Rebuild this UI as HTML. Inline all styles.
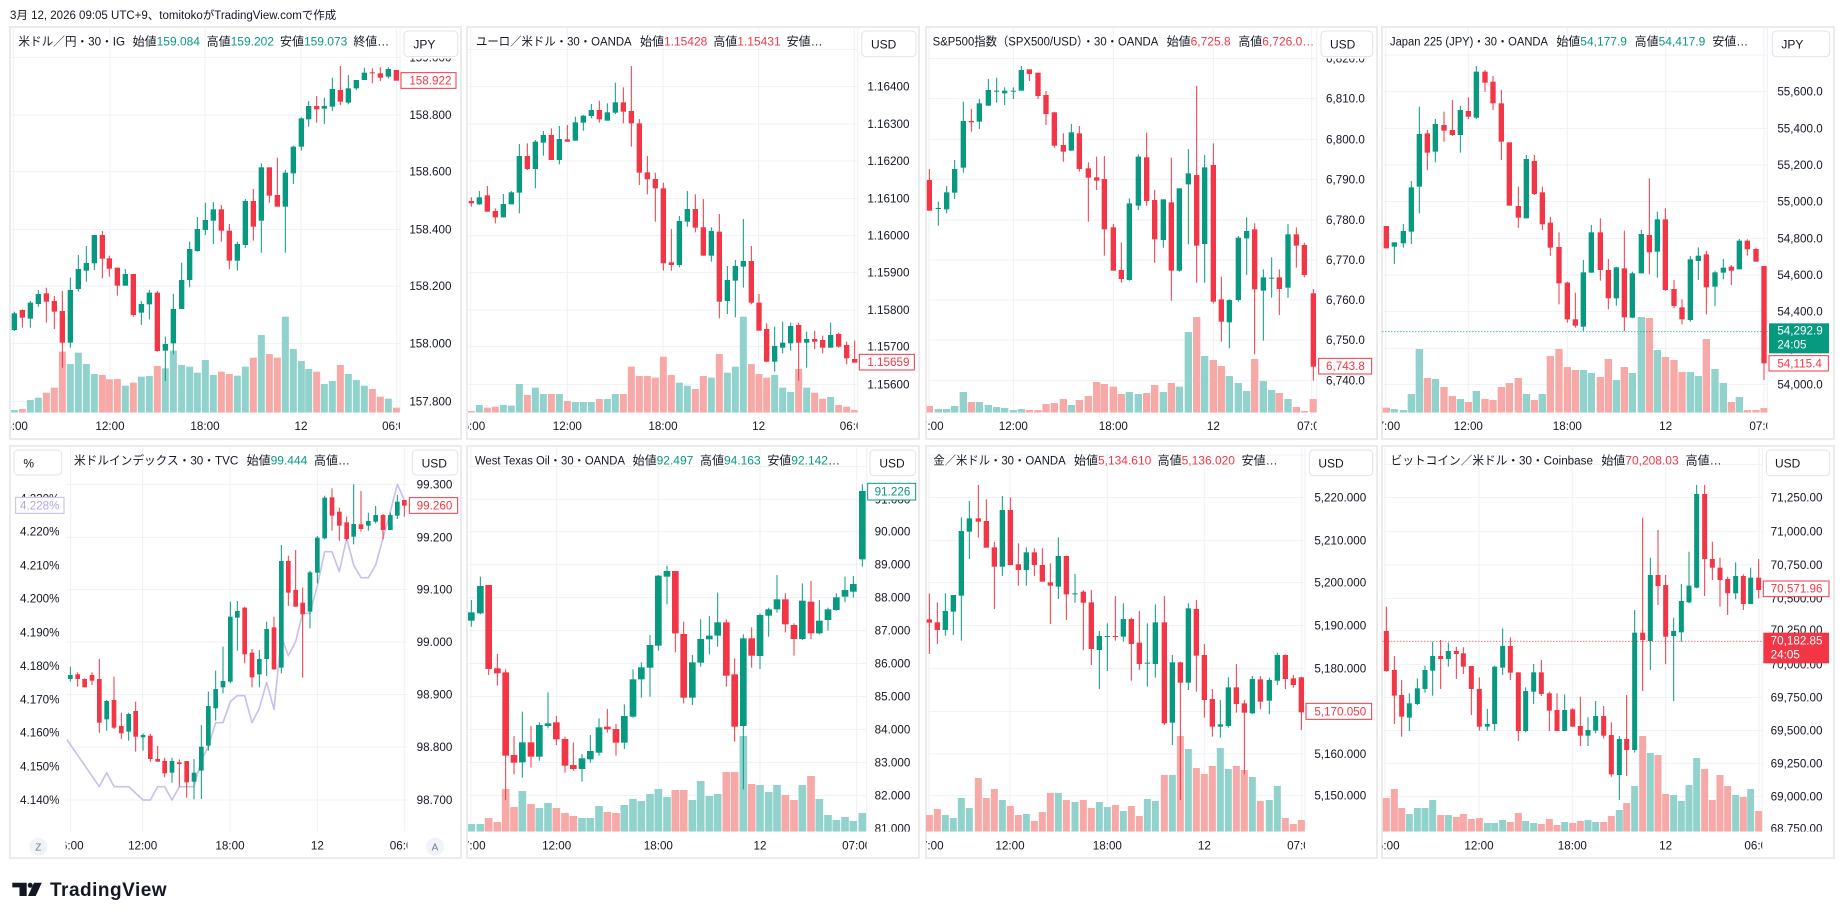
<!DOCTYPE html>
<html><head><meta charset="utf-8">
<style>
html,body{margin:0;padding:0;background:#fff;width:1844px;height:920px;overflow:hidden;}
svg{display:block;font-family:"Liberation Sans","Noto Sans CJK JP",sans-serif;}
.t{font-size:36px;fill:#131722;}
.ax{font-size:35px;fill:#131722;}
.tm{font-size:35px;fill:#131722;text-anchor:middle;}
.g{fill:#089981}.r{fill:#f23645}
.grid{stroke:#eff1f4;stroke-width:3;fill:none}
.cb{fill:#fff;stroke:#e0e3eb;stroke-width:3}
</style></head><body>
<svg id="S" width="1844" height="920" viewBox="0 0 1844 920" xmlns="http://www.w3.org/2000/svg">
<defs>
<clipPath id="p1"><rect x="33" y="81" width="1167" height="1157"/></clipPath>
<clipPath id="p2"><rect x="24" y="81" width="1169" height="1157"/></clipPath>
<clipPath id="p3"><rect x="20" y="81" width="1170" height="1157"/></clipPath>
<clipPath id="p4"><rect x="25" y="81" width="1155" height="1157"/></clipPath>
<clipPath id="p5"><rect x="200" y="18" width="1022" height="1157"/></clipPath>
<clipPath id="p6"><rect x="24" y="18" width="1196" height="1157"/></clipPath>
<clipPath id="p7"><rect x="18" y="18" width="1137" height="1157"/></clipPath>
<clipPath id="p8"><rect x="25" y="18" width="1140" height="1157"/></clipPath>
<clipPath id="a1"><rect x="1200" y="176" width="200" height="1062"/></clipPath>
<clipPath id="a2"><rect x="1193" y="176" width="200" height="1062"/></clipPath>
<clipPath id="a3"><rect x="1190" y="176" width="200" height="1062"/></clipPath>
<clipPath id="a4"><rect x="1180" y="176" width="200" height="1062"/></clipPath>
<clipPath id="a5"><rect x="1222" y="108" width="200" height="1067"/></clipPath>
<clipPath id="a6"><rect x="1220" y="108" width="200" height="1067"/></clipPath>
<clipPath id="a7"><rect x="1155" y="108" width="250" height="1067"/></clipPath>
<clipPath id="a8"><rect x="1165" y="108" width="250" height="1067"/></clipPath>
<clipPath id="t1"><rect x="33" y="0" width="1167" height="1400"/></clipPath>
<clipPath id="t2"><rect x="24" y="0" width="1169" height="1400"/></clipPath>
<clipPath id="t3"><rect x="20" y="0" width="1170" height="1400"/></clipPath>
<clipPath id="t4"><rect x="25" y="0" width="1155" height="1400"/></clipPath>
<clipPath id="t5"><rect x="197" y="0" width="1025" height="1400"/></clipPath>
<clipPath id="t6"><rect x="24" y="0" width="1196" height="1400"/></clipPath>
<clipPath id="t7"><rect x="18" y="0" width="1137" height="1400"/></clipPath>
<clipPath id="t8"><rect x="25" y="0" width="1140" height="1400"/></clipPath>
</defs>
<rect width="1844" height="920" fill="#fff"/>
<text x="10" y="19" font-size="11.5" fill="#131722">3月 12, 2026 09:05 UTC+9、tomitokoがTradingView.comで作成</text>

<g fill="none" stroke="#ebebeb" stroke-width="2">
<rect x="10" y="27" width="451" height="412"/>
<rect x="467" y="27" width="452" height="412"/>
<rect x="926" y="27" width="451" height="412"/>
<rect x="1382" y="27" width="452" height="412"/>
<rect x="10" y="446" width="451" height="412"/>
<rect x="467" y="446" width="452" height="412"/>
<rect x="926" y="446" width="451" height="412"/>
<rect x="1382" y="446" width="452" height="412"/>
</g>

<!-- TradingView logo -->
<g fill="#131722">
<path d="M12.3 882.7H26.7V896H19.5V887.4H12.3Z"/>
<circle cx="30.2" cy="885.3" r="2.5"/>
<path d="M34 882.7H41.8L35.7 896H28Z"/>
<text x="50" y="896" font-size="19" font-weight="bold" letter-spacing="0.5">TradingView</text>
</g>

<!-- PANEL 1 -->
<g transform="scale(0.333333)">
<path class="grid" d="M33 172H1200M33 345H1200M33 515H1200M33 688H1200M33 858H1200M33 1030H1200M33 1205H1200M40 81V1238M330 81V1238M615 81V1238M903 81V1238M1190 81V1238M1200 81V1238"/>
<g id="c1" clip-path="url(#p1)"></g>
<g clip-path="url(#a1)" class="ax">
<text x="1228" y="184">159.000</text><text x="1228" y="357">158.800</text><text x="1228" y="527">158.600</text><text x="1228" y="700">158.400</text><text x="1228" y="870">158.200</text><text x="1228" y="1042">158.000</text><text x="1228" y="1217">157.800</text>
</g>
<rect x="1203" y="218" width="165" height="47" fill="#fff" stroke="#f23645" stroke-width="3"/>
<text x="1228" y="254" class="ax r">158.922</text>
<rect class="cb" x="1212" y="93" width="161" height="77" rx="12"/>
<text x="1240" y="145" class="t">JPY</text>
<text x="55" y="137" class="t" textLength="320" lengthAdjust="spacingAndGlyphs">米ドル／円・30・IG</text>
<text x="398" y="137" class="t">始値<tspan class="g">159.084</tspan></text>
<text x="620" y="137" class="t">高値<tspan class="g">159.202</tspan></text>
<text x="840" y="137" class="t">安値<tspan class="g">159.073</tspan></text>
<text x="1060" y="137" class="t">終値…</text>
<g clip-path="url(#t1)"><text class="tm" x="40" y="1290">06:00</text><text class="tm" x="330" y="1290">12:00</text><text class="tm" x="615" y="1290">18:00</text><text class="tm" x="903" y="1290">12</text><text class="tm" x="1190" y="1290">06:00</text></g>
</g>

<!-- PANEL 2 -->
<g transform="translate(460 0) scale(0.333333)">
<path class="grid" d="M24 148H1193M24 260H1193M24 372H1193M24 483H1193M24 596H1193M24 707H1193M24 818H1193M24 930H1193M24 1040H1193M24 1153H1193M32 81V1238M322 81V1238M609 81V1238M896 81V1238M1183 81V1238M1193 81V1238"/>
<g id="c2" clip-path="url(#p2)"></g>
<g clip-path="url(#a2)" class="ax">
<text x="1222" y="272">1.16400</text><text x="1222" y="384">1.16300</text><text x="1222" y="495">1.16200</text><text x="1222" y="608">1.16100</text><text x="1222" y="719">1.16000</text><text x="1222" y="830">1.15900</text><text x="1222" y="942">1.15800</text><text x="1222" y="1052">1.15700</text><text x="1222" y="1165">1.15600</text>
</g>
<rect x="1198" y="1063" width="165" height="47" fill="#fff" stroke="#f23645" stroke-width="3"/>
<text x="1222" y="1098" class="ax r">1.15659</text>
<rect class="cb" x="1205" y="93" width="163" height="77" rx="12"/>
<text x="1233" y="145" class="t">USD</text>
<text x="48" y="137" class="t" textLength="467" lengthAdjust="spacingAndGlyphs">ユーロ／米ドル・30・OANDA</text>
<text x="540" y="137" class="t">始値<tspan class="r">1.15428</tspan></text>
<text x="760" y="137" class="t">高値<tspan class="r">1.15431</tspan></text>
<text x="980" y="137" class="t">安値…</text>
<g clip-path="url(#t2)"><text class="tm" x="32" y="1290">06:00</text><text class="tm" x="322" y="1290">12:00</text><text class="tm" x="609" y="1290">18:00</text><text class="tm" x="896" y="1290">12</text><text class="tm" x="1183" y="1290">06:00</text></g>
</g>

<!-- PANEL 3 -->
<g transform="translate(920 0) scale(0.333333)">
<path class="grid" d="M20 176H1190M20 296H1190M20 418H1190M20 538H1190M20 660H1190M20 780H1190M20 900H1190M20 1020H1190M20 1142H1190M27 81V1238M280 81V1238M580 81V1238M880 81V1238M1175 81V1238M1190 81V1238"/>
<g id="c3" clip-path="url(#p3)"></g>
<g clip-path="url(#a3)" class="ax">
<text x="1218" y="188">6,820.0</text><text x="1218" y="308">6,810.0</text><text x="1218" y="430">6,800.0</text><text x="1218" y="550">6,790.0</text><text x="1218" y="672">6,780.0</text><text x="1218" y="792">6,770.0</text><text x="1218" y="912">6,760.0</text><text x="1218" y="1032">6,750.0</text><text x="1218" y="1154">6,740.0</text>
</g>
<rect x="1196" y="1075" width="159" height="47" fill="#fff" stroke="#f23645" stroke-width="3"/>
<text x="1218" y="1110" class="ax r">6,743.8</text>
<rect class="cb" x="1203" y="93" width="155" height="77" rx="12"/>
<text x="1230" y="145" class="t">USD</text>
<text x="38" y="137" class="t" textLength="677" lengthAdjust="spacingAndGlyphs">S&amp;P500指数（SPX500/USD）・30・OANDA</text>
<text x="740" y="137" class="t">始値<tspan class="r">6,725.8</tspan></text>
<text x="955" y="137" class="t">高値<tspan class="r">6,726.0…</tspan></text>
<g clip-path="url(#t3)"><text class="tm" x="27" y="1290">07:00</text><text class="tm" x="280" y="1290">12:00</text><text class="tm" x="580" y="1290">18:00</text><text class="tm" x="880" y="1290">12</text><text class="tm" x="1175" y="1290">07:00</text></g>
</g>

<!-- PANEL 4 -->
<g transform="translate(1374 0) scale(0.333333)">
<path class="grid" d="M25 165H1180M25 275H1180M25 385H1180M25 495H1180M25 605H1180M25 715H1180M25 825H1180M25 935H1180M25 1045H1180M25 1153H1180M35 81V1238M283 81V1238M580 81V1238M875 81V1238M1170 81V1238M1180 81V1238"/>
<g id="c4" clip-path="url(#p4)"></g>
<path d="M25 995H1180" stroke="#089981" stroke-width="3" stroke-dasharray="3 6"/>
<g clip-path="url(#a4)" class="ax">
<text x="1210" y="287">55,600.0</text><text x="1210" y="397">55,400.0</text><text x="1210" y="507">55,200.0</text><text x="1210" y="617">55,000.0</text><text x="1210" y="727">54,800.0</text><text x="1210" y="837">54,600.0</text><text x="1210" y="947">54,400.0</text><text x="1210" y="1057">54,200.0</text><text x="1210" y="1165">54,000.0</text>
</g>
<rect x="1185" y="970" width="180" height="90" fill="#089981"/>
<text x="1210" y="1004" class="ax" style="fill:#fff">54,292.9</text>
<text x="1210" y="1045" class="ax" style="fill:#fff">24:05</text>
<rect x="1185" y="1067" width="178" height="46" fill="#fff" stroke="#f23645" stroke-width="3"/>
<text x="1210" y="1102" class="ax r">54,115.4</text>
<rect class="cb" x="1195" y="93" width="172" height="77" rx="12"/>
<text x="1222" y="145" class="t">JPY</text>
<text x="48" y="137" class="t" textLength="474" lengthAdjust="spacingAndGlyphs">Japan 225 (JPY)・30・OANDA</text>
<text x="547" y="137" class="t">始値<tspan class="g">54,177.9</tspan></text>
<text x="782" y="137" class="t">高値<tspan class="g">54,417.9</tspan></text>
<text x="1015" y="137" class="t">安値…</text>
<g clip-path="url(#t4)"><text class="tm" x="35" y="1290">07:00</text><text class="tm" x="283" y="1290">12:00</text><text class="tm" x="580" y="1290">18:00</text><text class="tm" x="875" y="1290">12</text><text class="tm" x="1170" y="1290">07:00</text></g>
</g>

<!-- PANEL 5 -->
<g transform="translate(0 440) scale(0.333333)">
<path class="grid" d="M200 133H1222M200 292H1222M200 449H1222M200 606H1222M200 764H1222M200 921H1222M200 1080H1222M212 18V1175M428 18V1175M690 18V1175M952 18V1175M1213 18V1175"/>
<g clip-path="url(#p5)">
<polyline fill="none" stroke="#cbc0ea" stroke-width="5" stroke-linejoin="round" points="200,898 298,1040 320,998 342,1040 386,1040 429,1080 451,1080 473,1040 494,1040 516,1080 538,1040 582,1040 604,960 625,920 647,848 669,848 691,785 712,767 734,767 756,848 778,805 800,727 822,808 844,590 865,647 887,605 908,520 930,520 952,437 974,335 996,335 1018,395 1040,295 1061,375 1083,413 1105,413 1127,375 1149,295 1171,215 1192,133 1213,180"/>
<g id="c5"></g>
</g>
<g clip-path="url(#a5)" class="ax">
<text x="1250" y="145">99.300</text><text x="1250" y="304">99.200</text><text x="1250" y="461">99.100</text><text x="1250" y="618">99.000</text><text x="1250" y="776">98.900</text><text x="1250" y="933">98.800</text><text x="1250" y="1092">98.700</text>
</g>
<g class="ax">
<text x="60" y="187">4.230%</text><text x="60" y="287">4.220%</text><text x="60" y="388">4.210%</text><text x="60" y="488">4.200%</text><text x="60" y="590">4.190%</text><text x="60" y="690">4.180%</text><text x="60" y="790">4.170%</text><text x="60" y="890">4.160%</text><text x="60" y="992">4.150%</text><text x="60" y="1092">4.140%</text>
</g>
<rect x="47" y="172" width="145" height="48" fill="#fff" stroke="#c5b8ea" stroke-width="3"/>
<text x="60" y="208" class="ax" style="fill:#b6a6e3">4.228%</text>
<rect x="1228" y="173" width="145" height="47" fill="#fff" stroke="#f23645" stroke-width="3"/>
<text x="1250" y="208" class="ax r">99.260</text>
<rect class="cb" x="1237" y="30" width="136" height="75" rx="12"/>
<text x="1265" y="82" class="t">USD</text>
<rect class="cb" x="42" y="30" width="143" height="75" rx="12"/>
<text x="70" y="82" class="t">%</text>
<text x="222" y="74" class="t" textLength="493" lengthAdjust="spacingAndGlyphs">米ドルインデックス・30・TVC</text>
<text x="740" y="74" class="t">始値<tspan class="g">99.444</tspan></text>
<text x="942" y="74" class="t">高値…</text>
<g clip-path="url(#t5)"><text class="tm" x="207" y="1229">06:00</text><text class="tm" x="428" y="1229">12:00</text><text class="tm" x="690" y="1229">18:00</text><text class="tm" x="952" y="1229">12</text><text class="tm" x="1213" y="1229">06:00</text></g>
<circle cx="115" cy="1220" r="27" fill="#f0f3fa"/>
<text x="115" y="1231" font-size="30" text-anchor="middle" fill="#787b86">Z</text>
<circle cx="1305" cy="1220" r="27" fill="#f0f3fa"/>
<text x="1305" y="1231" font-size="30" text-anchor="middle" fill="#787b86">A</text>
</g>

<!-- PANEL 6 -->
<g transform="translate(460 440) scale(0.333333)">
<path class="grid" d="M24 80H1220M24 178H1220M24 275H1220M24 374H1220M24 473H1220M24 572H1220M24 671H1220M24 770H1220M24 868H1220M24 967H1220M24 1066H1220M24 1165H1220M33 18V1175M290 18V1175M595 18V1175M900 18V1175M1190 18V1175M1220 18V1175"/>
<g id="c6" clip-path="url(#p6)"></g>
<g clip-path="url(#a6)" class="ax">
<text x="1244" y="190">91.000</text><text x="1244" y="287">90.000</text><text x="1244" y="386">89.000</text><text x="1244" y="485">88.000</text><text x="1244" y="584">87.000</text><text x="1244" y="683">86.000</text><text x="1244" y="782">85.000</text><text x="1244" y="880">84.000</text><text x="1244" y="979">83.000</text><text x="1244" y="1078">82.000</text><text x="1244" y="1177">81.000</text>
</g>
<rect x="1223" y="130" width="144" height="50" fill="#fff" stroke="#089981" stroke-width="3"/>
<text x="1244" y="167" class="ax g">91.226</text>
<rect class="cb" x="1230" y="30" width="137" height="77" rx="12"/>
<text x="1258" y="82" class="t">USD</text>
<text x="45" y="74" class="t" textLength="450" lengthAdjust="spacingAndGlyphs">West Texas Oil・30・OANDA</text>
<text x="518" y="74" class="t">始値<tspan class="g">92.497</tspan></text>
<text x="720" y="74" class="t">高値<tspan class="g">94.163</tspan></text>
<text x="922" y="74" class="t">安値<tspan class="g">92.142</tspan>…</text>
<g clip-path="url(#t6)"><text class="tm" x="33" y="1229">07:00</text><text class="tm" x="290" y="1229">12:00</text><text class="tm" x="595" y="1229">18:00</text><text class="tm" x="900" y="1229">12</text><text class="tm" x="1190" y="1229">07:00</text></g>
</g>

<!-- PANEL 7 -->
<g transform="translate(920 440) scale(0.333333)">
<path class="grid" d="M18 45H1155M18 173H1155M18 302H1155M18 428H1155M18 557H1155M18 686H1155M18 815H1155M18 942H1155M18 1067H1155M27 18V1175M270 18V1175M562 18V1175M853 18V1175M1145 18V1175M1155 18V1175"/>
<g id="c7" clip-path="url(#p7)"></g>
<g clip-path="url(#a7)" class="ax">
<text x="1183" y="185">5,220.000</text><text x="1183" y="314">5,210.000</text><text x="1183" y="440">5,200.000</text><text x="1183" y="569">5,190.000</text><text x="1183" y="698">5,180.000</text><text x="1183" y="827">5,170.000</text><text x="1183" y="954">5,160.000</text><text x="1183" y="1079">5,150.000</text>
</g>
<rect x="1158" y="790" width="197" height="48" fill="#fff" stroke="#f23645" stroke-width="3"/>
<text x="1183" y="826" class="ax r">5,170.050</text>
<rect class="cb" x="1168" y="30" width="190" height="77" rx="12"/>
<text x="1195" y="82" class="t">USD</text>
<text x="40" y="74" class="t" textLength="397" lengthAdjust="spacingAndGlyphs">金／米ドル・30・OANDA</text>
<text x="462" y="74" class="t">始値<tspan class="r">5,134.610</tspan></text>
<text x="713" y="74" class="t">高値<tspan class="r">5,136.020</tspan></text>
<text x="965" y="74" class="t">安値…</text>
<g clip-path="url(#t7)"><text class="tm" x="27" y="1229">07:00</text><text class="tm" x="270" y="1229">12:00</text><text class="tm" x="562" y="1229">18:00</text><text class="tm" x="853" y="1229">12</text><text class="tm" x="1145" y="1229">07:00</text></g>
</g>

<!-- PANEL 8 -->
<g transform="translate(1374 440) scale(0.333333)">
<path class="grid" d="M25 73H1165M25 173H1165M25 275H1165M25 375H1165M25 475H1165M25 572H1165M25 673H1165M25 773H1165M25 872H1165M25 970H1165M25 1070H1165M25 1168H1165M33 18V1175M315 18V1175M595 18V1175M875 18V1175M1155 18V1175M1165 18V1175"/>
<g id="c8" clip-path="url(#p8)"></g>
<path d="M25 604H1165" stroke="#f23645" stroke-width="3" stroke-dasharray="3 6"/>
<g clip-path="url(#a8)" class="ax">
<text x="1190" y="185">71,250.00</text><text x="1190" y="287">71,000.00</text><text x="1190" y="387">70,750.00</text><text x="1190" y="487">70,500.00</text><text x="1190" y="582">70,250.00</text><text x="1190" y="685">70,000.00</text><text x="1190" y="785">69,750.00</text><text x="1190" y="884">69,500.00</text><text x="1190" y="982">69,250.00</text><text x="1190" y="1082">69,000.00</text><text x="1190" y="1177">68,750.00</text>
</g>
<rect x="1168" y="423" width="197" height="47" fill="#fff" stroke="#f23645" stroke-width="3"/>
<text x="1190" y="458" class="ax r">70,571.96</text>
<rect x="1168" y="578" width="197" height="92" fill="#f23645"/>
<text x="1190" y="614" class="ax" style="fill:#fff">70,182.85</text>
<text x="1190" y="655" class="ax" style="fill:#fff">24:05</text>
<rect class="cb" x="1177" y="30" width="190" height="77" rx="12"/>
<text x="1203" y="82" class="t">USD</text>
<text x="50" y="74" class="t" textLength="607" lengthAdjust="spacingAndGlyphs">ビットコイン／米ドル・30・Coinbase</text>
<text x="682" y="74" class="t">始値<tspan class="r">70,208.03</tspan></text>
<text x="935" y="74" class="t">高値…</text>
<g clip-path="url(#t8)"><text class="tm" x="33" y="1229">06:00</text><text class="tm" x="315" y="1229">12:00</text><text class="tm" x="595" y="1229">18:00</text><text class="tm" x="875" y="1229">12</text><text class="tm" x="1155" y="1229">06:00</text></g>
</g>
</svg>
<script>
(function(){
var NS='http://www.w3.org/2000/svg';
function R(g,x,y,w,h,f){var e=document.createElementNS(NS,'rect');e.setAttribute('x',x);e.setAttribute('y',y);e.setAttribute('width',w);e.setAttribute('height',h);e.setAttribute('fill',f);g.appendChild(e);}
function draw(id,cs,vs,bw,vw,base){
var g=document.getElementById(id);
var C=cs.trim().split(/\s+/).map(function(t){var n=t.slice(1).split(',').map(Number);return {c:t[0],n:n};});
if(vs){vs.trim().split(/\s+/).forEach(function(t,i){if(!C[i])return;var top=+t.slice(1);R(g,C[i].n[0]-vw/2,top,vw,base-top,t[0]=='g'?'#92d2cc':'#f7a9a7');});}
C.forEach(function(o){var n=o.n,col=o.c=='g'?'#089981':'#f23645';
R(g,n[0]-1.5,n[3],3,Math.max(3,n[4]-n[3]),col);
R(g,n[0]-bw/2,n[1],bw,Math.max(3,n[2]-n[1]),col);});
}
draw('c1',"g43,940,990,935,993 r67,930,953,928,983 g91,908,956,903,983 g115,882,912,870,920 r139,880,905,863,968 r163,903,935,888,987 r187,933,1028,873,1103 g211,870,1028,833,1043 g235,807,867,765,875 g259,789,812,738,845 g283,705,790,705,810 r307,705,776,693,835 r328,775,806,767,830 r352,803,857,803,887 g376,822,857,807,857 r400,822,945,822,950 g424,912,938,903,975 g448,878,913,870,958 r472,878,1053,873,1055 g496,1032,1052,1010,1143 g520,927,1030,882,1063 g545,840,927,788,927 g569,747,840,725,862 g592,687,753,651,755 g616,660,690,608,705 g640,628,662,606,732 r664,628,692,615,725 r688,692,782,672,808 g712,732,782,725,812 g736,603,735,597,743 r760,603,680,567,722 g784,502,662,490,758 r808,502,587,502,608 r832,585,620,473,620 g856,518,620,510,758 g880,440,520,437,552 g904,355,440,352,452 g926,318,358,303,380 r950,318,328,288,368 g973,318,326,293,372 g997,267,320,233,333 r1021,270,305,198,315 g1045,265,308,225,313 g1069,240,265,240,270 g1093,218,240,203,240 r1117,217,220,205,250 r1141,220,233,202,243 g1165,207,230,202,236 r1189,210,242,210,242",
"g1230 r1227 g1200 g1193 r1178 r1163 r1055 g1092 g1058 g1092 g1122 r1125 r1138 r1137 g1157 r1148 g1130 g1128 r1098 g1105 g1052 g1095 g1100 g1118 g1080 g1125 r1115 r1122 g1127 g1100 r1073 g1005 r1062 r1073 g950 g1047 g1083 g1107 r1115 g1152 g1143 r1095 g1122 g1140 g1157 r1167 r1190 g1196 r1223",16,21,1238);
draw('c2',"r34,603,610,592,620 g58,592,613,573,615 r82,586,635,558,635 r106,633,652,625,670 g130,612,652,582,652 g154,577,613,573,613 g178,468,578,432,640 r202,468,507,430,510 g226,425,507,420,565 g250,405,428,393,467 r274,405,480,385,480 g298,417,480,378,493 r322,418,425,375,425 g346,367,422,350,422 g370,347,368,345,392 g394,330,348,312,355 r418,330,358,302,368 g442,337,362,310,362 g466,307,338,248,342 r490,307,335,262,370 r514,333,370,198,440 r538,370,518,357,555 r562,517,538,468,583 r586,537,565,518,665 r610,565,790,548,812 r634,787,795,687,812 g658,663,795,648,802 g682,627,665,573,680 r706,627,683,583,697 r730,682,767,597,767 g754,693,767,682,785 r778,695,905,642,955 g802,840,903,798,942 g826,798,842,780,952 g850,783,800,657,863 r874,783,908,738,913 r897,908,992,882,992 r920,987,1085,970,1087 g944,1038,1085,980,1115 g968,1028,1043,965,1060 g992,978,1030,968,1052 r1016,975,1028,968,1142 g1040,1017,1028,995,1103 r1064,1017,1025,993,1047 r1088,1020,1043,1007,1060 g1112,1005,1043,968,1043 r1136,1002,1040,998,1043 r1160,1035,1075,1025,1093 r1184,1077,1088,1022,1088",
"r1233 g1215 r1223 r1220 g1215 g1217 g1152 r1185 g1163 g1182 r1182 g1182 r1203 g1206 g1206 g1206 r1197 g1197 g1182 r1182 r1100 r1128 r1128 r1133 r1070 r1125 g1148 g1157 r1167 r1128 g1133 r1062 g1118 g1100 g950 r1092 r1122 r1133 g1125 g1163 g1176 r1107 g1163 r1178 r1196 g1191 r1215 r1220 r1230",16,21,1238);
draw('c3',"r28,540,632,507,632 g55,624,627,605,677 g80,577,628,558,640 g104,507,578,480,597 g130,363,503,305,518 r154,363,367,327,395 g178,310,365,297,387 g205,270,317,237,317 g230,272,275,233,308 g254,272,280,262,315 g280,272,274,262,297 g304,210,272,198,272 r328,208,222,208,243 r354,218,288,218,297 r378,285,342,273,375 r403,337,437,335,443 r430,435,455,400,485 g454,397,452,372,452 r478,400,507,378,515 r505,505,533,487,665 r530,532,542,470,570 r553,537,688,468,767 r580,682,812,672,812 r604,810,837,727,848 g628,610,840,595,842 g655,470,617,463,630 r680,472,603,398,617 r704,600,718,570,788 g730,598,720,598,743 r754,607,812,473,902 g778,565,812,565,815 g805,520,553,447,733 r830,525,737,258,848 g854,502,732,465,848 r880,495,905,430,910 r904,898,965,830,1025 g928,900,967,898,1045 g955,713,900,708,905 g980,693,715,652,825 r1004,688,868,670,1063 g1030,832,872,808,1022 g1055,833,836,772,893 r1078,832,867,808,945 g1104,703,863,672,893 r1129,703,737,682,803 r1153,735,825,728,832 r1180,880,1100,867,1142",
"r1218 g1227 g1227 g1218 g1176 r1206 g1206 g1215 g1221 g1224 g1230 g1227 r1230 r1230 r1212 r1209 r1197 g1215 r1200 r1188 r1146 r1152 r1160 r1182 g1176 g1182 r1179 r1155 g1176 r1149 g1160 g996 r951 g1068 r1080 r1098 g1128 g1149 g1173 r1077 g1143 g1170 r1179 g1197 r1221 r1233 r1197",16,22,1238);
draw('c4',"r37,678,745,678,745 g61,727,740,727,792 g88,693,730,672,743 g112,562,695,543,732 g136,402,560,320,640 r160,400,458,390,510 g184,372,455,357,487 r210,375,392,335,425 r235,390,405,300,408 g259,330,405,317,458 r283,333,350,292,357 g307,215,353,198,357 r333,215,248,210,275 r357,245,310,228,330 r382,310,425,270,480 r406,427,617,427,617 r433,618,653,560,683 g457,477,655,465,655 r481,483,582,465,585 r505,577,673,560,690 r529,668,743,650,767 r555,741,850,697,913 r580,848,958,845,968 r604,958,977,878,983 g628,817,980,780,993 g652,697,818,675,818 r679,697,810,655,842 r703,810,895,777,928 g727,802,895,800,917 r751,805,952,692,993 g775,820,953,815,955 g802,702,820,690,820 r826,705,757,535,822 g850,658,755,635,833 r874,658,870,625,873 r900,867,918,840,925 r924,922,958,898,973 g949,778,960,768,965 g973,767,783,742,840 r997,763,862,752,943 g1023,817,860,812,918 g1048,803,818,777,838 r1072,800,812,795,855 g1096,722,808,717,808 r1120,722,748,718,767 r1146,747,785,743,785 r1170,798,1090,798,1140",
"r1223 g1227 g1230 g1182 g1047 r1134 g1137 r1161 r1188 g1197 r1206 g1173 r1197 r1200 r1161 r1149 r1134 g1182 r1200 g1182 r1068 r1047 r1101 r1110 g1110 g1119 r1131 r1077 g1140 r1101 g1119 g951 r954 g1050 r1071 r1080 r1116 g1116 g1128 r1017 g1107 g1149 r1206 g1191 r1230 r1230 r1224",16,22,1238);
draw('c5',"g211,705,717,680,725 r233,703,717,697,740 r254,717,742,715,742 r276,705,722,697,735 r298,717,848,657,878 g320,783,838,780,872 r342,780,863,710,867 r364,858,880,818,897 g386,822,875,818,902 r407,813,890,785,935 g429,885,892,880,932 r451,887,957,882,965 r473,957,965,918,965 r494,963,1000,953,1012 g516,963,998,953,1028 r538,967,972,958,1040 r560,963,1027,963,1073 g582,998,1025,957,1078 g604,920,992,855,1077 g625,798,917,755,932 g647,747,805,692,842 g669,723,742,620,760 g691,530,725,485,730 g712,513,533,483,632 r734,503,643,500,670 r756,638,712,627,742 g778,657,703,630,742 g800,567,657,545,708 r822,562,688,530,690 g844,363,683,315,700 r865,363,458,347,498 r887,450,500,330,500 r908,488,523,443,713 g930,397,515,392,565 g952,293,398,288,430 g974,173,295,167,298 r996,172,227,145,272 r1018,215,257,203,302 r1040,247,297,230,303 g1061,252,290,133,313 r1083,253,267,153,275 g1105,243,257,218,272 g1127,225,245,198,250 r1149,225,270,222,298 g1171,225,270,218,270 g1192,185,227,165,237 r1213,180,197,180,230",
"",14,19,1175);
draw('c6',"g34,517,542,480,560 g61,438,520,410,523 r86,435,687,435,705 r112,685,700,642,737 r137,697,947,688,1080 r162,945,968,888,1003 g187,907,967,815,1013 r213,907,950,858,983 g238,855,950,847,962 g264,850,858,757,865 r289,847,898,828,915 r315,897,977,890,998 r340,975,987,907,992 g366,955,987,942,1025 g391,933,958,885,968 g417,862,938,835,947 r442,860,868,807,878 r468,867,908,852,947 g493,828,908,793,927 g519,718,830,688,833 g544,682,718,667,773 g570,615,683,585,770 g595,407,617,405,632 g621,393,410,377,493 r646,393,580,393,637 r671,582,773,545,790 g697,667,773,645,795 g722,597,668,538,680 g748,587,598,528,643 g773,547,587,458,620 r799,547,707,538,740 r824,703,860,655,905 g850,595,858,583,1048 r875,595,647,562,683 g900,525,648,520,687 g926,508,527,503,590 g951,478,508,405,518 r976,478,553,460,577 r1002,555,597,550,647 g1027,482,597,430,600 r1053,485,580,423,597 g1078,542,580,480,583 g1104,508,540,503,572 g1129,472,510,460,512 g1155,450,470,410,487 g1180,432,455,408,473 g1207,153,358,133,380",
"g1152 g1152 r1134 r1146 r1047 r1101 g1053 r1092 g1104 g1089 r1104 r1119 r1128 g1134 g1134 g1098 r1116 r1119 g1095 g1077 g1083 g1062 g1047 g1071 r1050 r1050 g1080 g1023 g1068 g1062 r996 r996 g888 r1032 g1035 g1056 g1035 r1065 r1080 g1035 r1008 g1077 g1125 g1140 g1131 g1143 g1119",20,23,1175);
draw('c7',"r28,538,548,460,642 r52,547,570,487,612 g76,513,570,460,587 g100,465,515,465,585 g124,273,467,232,602 g148,235,275,183,357 r175,235,245,135,293 r199,243,323,178,323 r223,322,380,305,507 g247,210,380,168,408 r271,210,375,172,375 r295,373,390,310,437 g319,337,390,322,437 r343,337,375,325,408 r367,375,425,325,425 r391,427,437,370,552 g415,348,440,292,477 r439,348,463,347,540 g465,460,463,402,488 r490,455,488,450,630 r514,487,627,450,675 g538,588,630,573,747 g562,588,591,550,693 r586,588,591,468,602 g610,537,590,490,605 r634,537,612,533,722 r658,608,672,513,690 g682,668,671,550,740 g706,547,672,493,713 r733,547,850,468,855 g757,667,848,645,915 r781,667,728,665,1080 g805,505,728,490,750 r829,507,647,480,755 r853,645,780,612,833 r877,777,860,747,890 g901,853,860,780,893 g925,742,858,712,863 r949,742,792,672,818 r973,790,818,780,1003 g997,717,820,708,822 r1021,718,785,708,808 g1048,720,782,713,822 g1072,645,722,638,735 r1096,645,717,643,747 r1120,715,735,705,743 r1144,712,817,710,870",
"r1125 r1107 g1125 g1134 g1074 g1104 r1014 r1074 r1047 g1080 r1098 r1125 g1122 r1143 r1116 r1059 g1059 r1080 g1086 r1080 r1104 g1086 g1101 r1095 g1113 r1098 r1128 g1077 g1083 r1005 g1005 r888 g927 r984 r1002 r978 g924 g987 r978 r990 g1011 r1083 g1080 g1038 r1134 r1152 r1140",16,21,1175);
draw('c8',"r37,573,693,500,695 r61,690,767,648,852 r83,765,830,720,890 g106,790,833,760,873 g130,745,792,715,795 g153,690,747,677,758 g176,648,692,605,767 r200,648,657,600,747 g223,633,657,608,680 r247,633,642,620,717 r268,640,680,622,702 r292,678,747,678,825 r316,747,860,712,872 g340,852,860,807,872 g362,680,852,677,872 g386,618,683,565,705 r409,618,698,592,720 r433,697,873,697,903 g455,753,873,742,877 g479,697,755,672,792 r502,697,762,660,768 r526,760,812,755,873 r549,810,873,760,873 g572,810,873,763,873 r596,808,860,805,860 r619,858,887,770,918 g642,870,887,832,918 g665,828,872,783,880 r689,828,887,798,895 r712,885,1003,847,1010 g736,897,1005,888,1080 r758,897,930,765,1008 g782,578,930,510,938 r806,578,600,233,753 g829,405,603,353,690 r852,405,438,270,495 r875,435,590,405,672 g899,573,588,533,783 g922,483,577,432,605 g945,437,487,335,490 g968,162,443,135,445 r992,162,357,135,468 r1015,357,383,305,420 r1038,383,420,353,500 r1061,417,460,410,525 g1085,408,460,367,478 r1108,408,492,403,510 g1130,413,492,383,492 r1154,413,450,357,475",
"r1074 r1047 r1104 g1122 g1104 g1104 g1080 r1125 g1125 r1131 r1122 r1137 r1134 g1149 g1149 g1140 r1146 r1119 g1143 g1149 r1152 r1137 r1155 g1146 r1149 r1143 g1140 g1146 r1146 r1128 g1110 r1089 g1038 r888 g939 r945 r1062 g1065 g1083 g1035 g954 r987 r1080 r1005 r1038 g1065 r1071 g1047 r1113",15,21,1175);
})();
</script>
</body></html>
